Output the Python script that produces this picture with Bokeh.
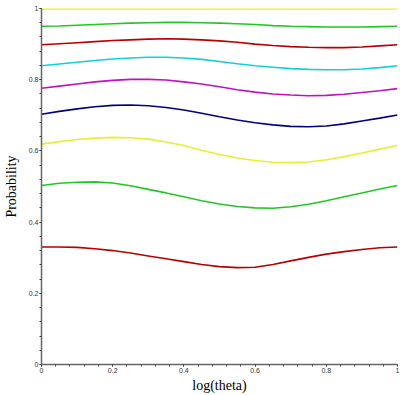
from bokeh.plotting import figure
from bokeh.embed import file_html
from bokeh.resources import INLINE
from bokeh.models import SingleIntervalTicker, CustomJSTickFormatter

x = [0.0, 0.05, 0.1, 0.15, 0.2, 0.25, 0.3, 0.35, 0.4, 0.45, 0.5,
     0.55, 0.6, 0.65, 0.7, 0.75, 0.8, 0.85, 0.9, 0.95, 1.0]

p_yellow1 = [0.999] * 21
p_green1 = [0.950, 0.951, 0.953, 0.955, 0.957, 0.959, 0.960, 0.961, 0.961, 0.960, 0.959,
            0.957, 0.955, 0.952, 0.950, 0.949, 0.948, 0.948, 0.948, 0.949, 0.950]
p_red1 = [0.898, 0.901, 0.904, 0.907, 0.910, 0.912, 0.914, 0.915, 0.914, 0.912, 0.909,
          0.905, 0.900, 0.896, 0.893, 0.891, 0.890, 0.890, 0.892, 0.895, 0.898]
p_cyan = [0.839, 0.844, 0.849, 0.854, 0.858, 0.861, 0.863, 0.863, 0.861, 0.857, 0.851,
          0.845, 0.839, 0.835, 0.831, 0.829, 0.828, 0.828, 0.830, 0.834, 0.839]
p_magenta = [0.776, 0.782, 0.788, 0.794, 0.798, 0.801, 0.801, 0.799, 0.794, 0.788, 0.780,
             0.772, 0.765, 0.760, 0.757, 0.755, 0.756, 0.759, 0.764, 0.769, 0.775]
p_navy = [0.703, 0.711, 0.718, 0.724, 0.728, 0.729, 0.727, 0.722, 0.715, 0.706, 0.696,
          0.687, 0.679, 0.673, 0.669, 0.668, 0.670, 0.676, 0.684, 0.692, 0.701]
p_yellow2 = [0.619, 0.626, 0.632, 0.636, 0.638, 0.637, 0.633, 0.625, 0.615, 0.602, 0.590,
             0.580, 0.573, 0.568, 0.567, 0.569, 0.575, 0.584, 0.594, 0.605, 0.616]
p_green2 = [0.503, 0.509, 0.512, 0.513, 0.510, 0.502, 0.492, 0.482, 0.471, 0.460, 0.451,
            0.444, 0.440, 0.439, 0.443, 0.450, 0.460, 0.471, 0.482, 0.493, 0.503]
p_red2 = [0.330, 0.330, 0.329, 0.325, 0.320, 0.313, 0.305, 0.297, 0.289, 0.281, 0.275,
          0.272, 0.273, 0.281, 0.291, 0.301, 0.310, 0.317, 0.323, 0.328, 0.330]

series = [
    (p_yellow1, "#e6f030"),
    (p_green1, "#22c822"),
    (p_red1, "#b80000"),
    (p_cyan, "#10d0d8"),
    (p_magenta, "#c010c0"),
    (p_navy, "#000080"),
    (p_yellow2, "#e6f030"),
    (p_green2, "#22c822"),
    (p_red2, "#b80000"),
]

p = figure(width=400, height=395, x_range=(0, 1), y_range=(0, 1.0),
           output_backend="svg", toolbar_location=None,
           min_border_left=41, min_border_right=3, min_border_top=8,
           min_border_bottom=31)
p.outline_line_color = None
p.grid.grid_line_color = None
p.background_fill_color = "white"

for ys, c in series:
    p.line(x, ys, line_color=c, line_width=1.6)

fmt = CustomJSTickFormatter(code="""
if (Math.abs(tick) < 1e-9) return "0";
if (Math.abs(tick - 1) < 1e-9) return "1";
return tick.toFixed(1);
""")

for ax in (p.xaxis[0], p.yaxis[0]):
    ax.ticker = SingleIntervalTicker(interval=0.2, num_minor_ticks=5)
    ax.formatter = fmt
    ax.axis_line_color = "#666666"
    ax.axis_line_width = 1.5
    ax.major_tick_line_color = "#444444"
    ax.minor_tick_line_color = "#444444"
    ax.major_tick_in = 0
    ax.major_tick_out = 2
    ax.minor_tick_in = 0
    ax.minor_tick_out = 2
    ax.major_label_text_font = "Liberation Sans"
    ax.major_label_text_font_size = "7px"
    ax.major_label_text_color = "#333333"
    ax.major_label_standoff = 1
    ax.axis_label_text_font = "Liberation Serif"
    ax.axis_label_text_font_style = "normal"
    ax.axis_label_text_font_size = "14px"
    ax.axis_label_text_color = "black"
    ax.axis_label_standoff = 2

p.xaxis[0].axis_label = "log(theta)"
p.yaxis[0].axis_label = "Probability"
p.yaxis[0].axis_label_standoff = 7

open("out.html", "w").write(file_html(p, INLINE))
